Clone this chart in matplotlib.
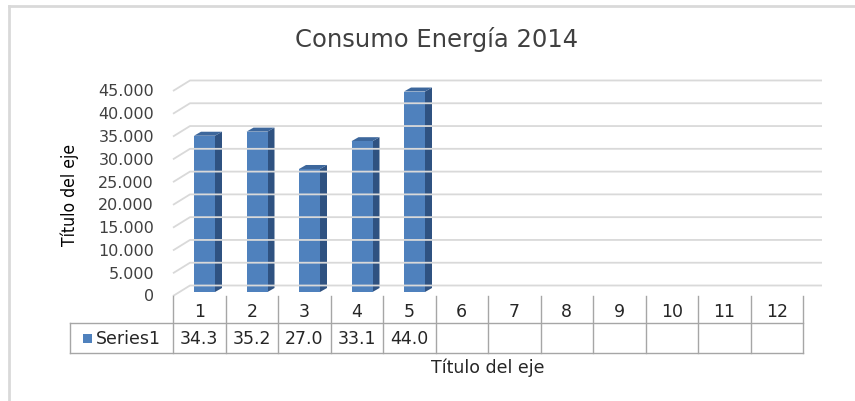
import matplotlib
matplotlib.use('Agg')
import matplotlib.pyplot as plt
from matplotlib.patches import Polygon, Rectangle

# datos del grafico
categorias = ['1', '2', '3', '4', '5', '6', '7', '8', '9', '10', '11', '12']
consumo = [34.3, 35.2, 27.0, 33.1, 44.0]
serie = 'Series1'
ticks_y = [0, 5, 10, 15, 20, 25, 30, 35, 40, 45]
etiquetas_y = ['0', '5.000', '10.000', '15.000', '20.000', '25.000',
               '30.000', '35.000', '40.000', '45.000']
titulo = 'Consumo Energía 2014'
titulo_eje = 'Título del eje'

W, H = 855, 402
fig = plt.figure(figsize=(W / 100, H / 100), dpi=100)
ax = fig.add_axes([0, 0, 1, 1])
ax.axis('off')

# escala: x0 (categoria 0) en pixel 173, 52.5 px por categoria; valor 0 en pixel 297
px_x, x0 = 52.5, 173
px_y, y0 = 4.556, 297
ax.set_xlim(-x0 / px_x, (W - x0) / px_x)
ax.set_ylim(-(H - y0) / px_y, y0 / px_y)

n = len(categorias)
dx, dy = 17 / px_x, 10.5 / px_y          # profundidad de la pared
x_fin = (822 - x0) / px_x
gris = '#D9D9D9'

# lineas de la cuadricula (pared del fondo)
for v, lab in zip(ticks_y, etiquetas_y):
    ax.plot([0, dx, x_fin], [v, v + dy, v + dy], color=gris, lw=1.3,
            solid_capstyle='butt')
    ax.text(-19 / px_x, v, lab, ha='right', va='center', fontsize=11.5,
            color='#404040')

# barras 3D
frente = '#4F81BD'
lado = '#2F5281'
tapa = '#3D679C'
b0 = 4 / px_y
bdx, bdy = 7 / px_x, 4 / px_y
for i, v in enumerate(consumo):
    xl, xr = i + 0.40, i + 0.80
    yt = b0 + v
    ax.add_patch(Polygon([(xr, b0), (xr + bdx, b0 + bdy), (xr + bdx, yt + bdy), (xr, yt)],
                         closed=True, facecolor=lado, edgecolor='none'))
    ax.add_patch(Polygon([(xl, yt), (xr, yt), (xr + bdx, yt + bdy), (xl + bdx, yt + bdy)],
                         closed=True, facecolor=tapa, edgecolor='none'))
    ax.add_patch(Rectangle((xl, b0), xr - xl, v, facecolor=frente, edgecolor='none'))

# tabla de datos
linea = '#A6A6A6'
y_fila1 = -27 / px_y
y_fila2 = -57 / px_y
x_izq = (70 - x0) / px_x
for i in range(n + 1):
    ax.plot([i, i], [0, y_fila2], color=linea, lw=1)
ax.plot([x_izq, n], [y_fila1, y_fila1], color=linea, lw=1)
ax.plot([x_izq, n], [y_fila2, y_fila2], color=linea, lw=1)
ax.plot([x_izq, x_izq], [y_fila1, y_fila2], color=linea, lw=1)

for i, c in enumerate(categorias):
    ax.text(i + 0.5, y_fila1 / 2 - 0.3, c, ha='center', va='center',
            fontsize=12.5, color='#262626')
for i, v in enumerate(consumo):
    ax.text(i + 0.5, (y_fila1 + y_fila2) / 2, f'{v:.1f}', ha='center', va='center',
            fontsize=12.5, color='#262626')
ax.add_patch(Rectangle(((83 - x0) / px_x, (y_fila1 + y_fila2) / 2 - 4.5 / px_y),
                       9 / px_x, 9 / px_y, facecolor=frente, edgecolor='none'))
ax.text((96 - x0) / px_x, (y_fila1 + y_fila2) / 2, serie, ha='left', va='center',
        fontsize=12.5, color='#262626')

# marco
fig.add_artist(plt.Line2D([9 / W, 9 / W], [0, 1 - 7 / H], color=gris, lw=2))
fig.add_artist(plt.Line2D([9 / W, 1], [1 - 7 / H, 1 - 7 / H], color=gris, lw=2))

# titulos
fig.text(437 / W, 1 - 39 / H, titulo, ha='center', va='center', fontsize=17.5,
         color='#404040')
fig.text(488 / W, 1 - 368 / H, titulo_eje, ha='center', va='center', fontsize=12.5,
         color='#262626')
fig.text(70 / W, 1 - 195 / H, titulo_eje, ha='center', va='center', rotation=90,
         fontsize=12.5, color='#000000', family='DejaVu Sans', fontstretch='condensed')

fig.savefig('out.png', dpi=100)
